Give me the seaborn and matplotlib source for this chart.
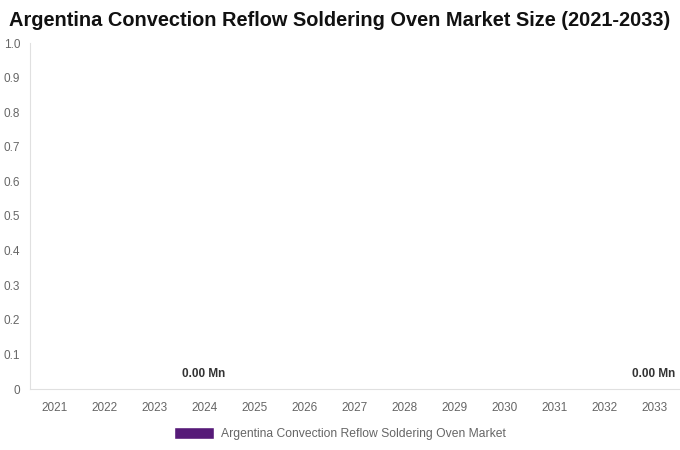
import matplotlib
matplotlib.use("Agg")
import matplotlib.pyplot as plt
import seaborn as sns
import pandas as pd
from matplotlib.patches import Patch

years = ["2021", "2022", "2023", "2024", "2025", "2026", "2027",
         "2028", "2029", "2030", "2031", "2032", "2033"]
market_size = [0, 0, 0, 0, 0, 0, 0, 0, 0, 0, 0, 0, 0]
labeled_years = ["2024", "2033"]
y_ticks = [0, 0.1, 0.2, 0.3, 0.4, 0.5, 0.6, 0.7, 0.8, 0.9, 1.0]
y_tick_labels = ["0", "0.1", "0.2", "0.3", "0.4", "0.5", "0.6", "0.7", "0.8", "0.9", "1.0"]
series_name = "Argentina Convection Reflow Soldering Oven Market"
bar_color = "#561a78"

sns.set_style("white")
plt.rcParams["font.family"] = ["Liberation Sans", "DejaVu Sans"]

df = pd.DataFrame({"Year": years, "Size": market_size})

fig = plt.figure(figsize=(6.8, 4.5), dpi=100)
ax = fig.add_axes([30 / 680, 1 - 389 / 450, 650 / 680, 346 / 450])

sns.barplot(data=df, x="Year", y="Size", color=bar_color, ax=ax, width=0.6)

ax.set_ylim(0, 1.0)
ax.set_yticks(y_ticks)
ax.set_yticklabels(y_tick_labels)
ax.tick_params(axis="both", length=0, labelsize=8.5, colors="#666666")
ax.tick_params(axis="y", pad=7)
ax.tick_params(axis="x", pad=9.5)
ax.set_xlabel("")
ax.set_ylabel("")

for side in ["top", "right"]:
    ax.spines[side].set_visible(False)
for side in ["left", "bottom"]:
    ax.spines[side].set_color("#e0e0e0")
    ax.spines[side].set_linewidth(0.8)

for yr, val in zip(years, market_size):
    if yr in labeled_years:
        ax.annotate(f"{val:.2f} Mn", xy=(years.index(yr), val), xytext=(-1, 6.5),
                    textcoords="offset points", ha="center", va="bottom",
                    fontsize=8.5, fontweight="bold", color="#333333")

fig.text(0.5, 1 - 21 / 450,
         "Argentina Convection Reflow Soldering Oven Market Size (2021-2033)",
         ha="center", va="center", fontsize=14.4, fontweight="bold", color="#111111")

handles = [Patch(facecolor=bar_color, label=series_name)]
fig.legend(handles=handles, loc="lower center", bbox_to_anchor=(0.5, -0.002),
           frameon=False, fontsize=8.7, handlelength=3.3, handleheight=1.2,
           handletextpad=0.55, labelcolor="#666666")

fig.savefig("out.png", dpi=100)
